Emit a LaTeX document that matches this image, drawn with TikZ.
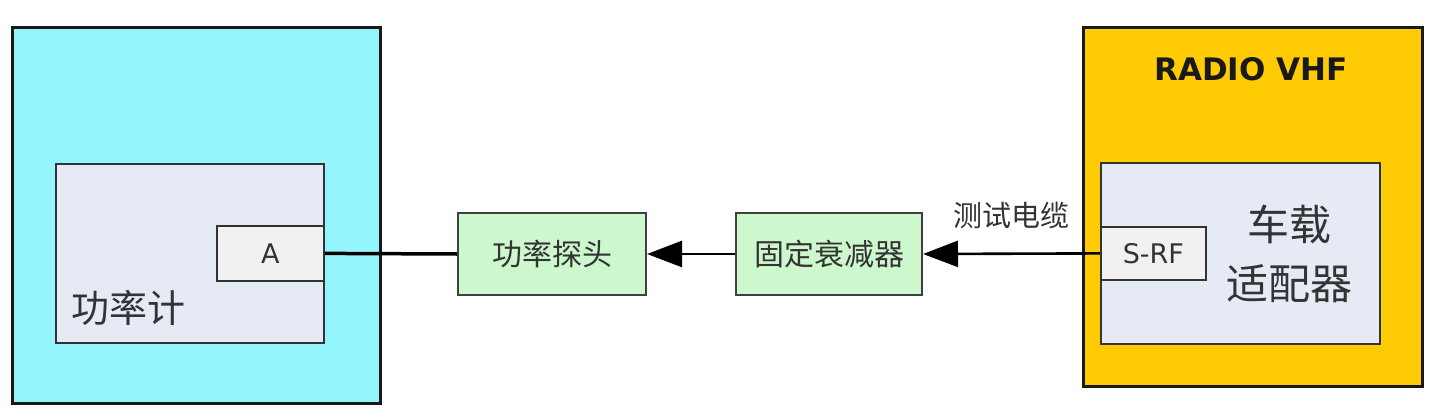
\documentclass[tikz,border=0pt]{standalone}
\usepackage{fontspec}
\setmainfont{DejaVu Sans}
\newfontfamily\cjk{Noto Sans CJK SC}
\usetikzlibrary{arrows.meta}
\definecolor{cyanbg}{HTML}{94F5FC}
\definecolor{inner}{HTML}{E6EAF4}
\definecolor{port}{HTML}{F1F1F1}
\definecolor{greenbox}{HTML}{CDF7CD}
\definecolor{gold}{HTML}{FFCB05}
\definecolor{txt}{HTML}{333333}
\tikzset{
  outerbox/.style={draw=black!90, line width=3pt},
  innerbox/.style={draw=black!80, line width=1.8pt, fill=inner},
  portbox/.style={draw=black!80, line width=1.8pt, fill=port, text=txt, font=\fontsize{27}{30}\selectfont},
  blockbox/.style={draw=black!75, line width=2pt, fill=greenbox, text=txt, font=\cjk\fontsize{30}{32}\selectfont},
  conn/.style={line width=3.5pt, draw=black},
  arr/.style={line width=2.6pt, draw=black, -{Triangle[length=35pt,width=26pt]}},
}
\begin{document}
\begin{tikzpicture}[x=1pt,y=-1pt]
\useasboundingbox (0,0) rectangle (1440,420);
\fill[white] (0,0) rectangle (1440,420);
% left
\draw[outerbox, fill=cyanbg] (12,28) rectangle (380,403);
\node[innerbox, minimum width=268pt, minimum height=179pt, anchor=north west, inner sep=0] (pm) at (55,163) {};
\node[portbox, minimum width=107pt, minimum height=55pt, anchor=north west, inner sep=0] (A) at (216,225) {A};
\node[anchor=west, text=txt, font=\cjk\fontsize{38}{40}\selectfont, inner sep=0] (pmlabel) at (71,308) {功率计};
% middle blocks
\node[blockbox, minimum width=188pt, minimum height=82pt, anchor=north west, inner sep=0] (probe) at (457,212) {功率探头};
\node[blockbox, minimum width=186pt, minimum height=82pt, anchor=north west, inner sep=0] (att) at (735,212) {固定衰减器};
% right
\draw[outerbox, fill=gold] (1083,28) rectangle (1422,386);
\node[font=\bfseries\fontsize{31}{33}\selectfont, text=black!90] (radio) at (1251,69) {RADIO VHF};
\node[innerbox, minimum width=279pt, minimum height=181pt, anchor=north west, inner sep=0] (adp) at (1100,162) {};
\node[portbox, minimum width=105pt, minimum height=53pt, anchor=north west, inner sep=0] (srf) at (1100,226) {S-RF};
\node[text=txt, font=\cjk\fontsize{42}{59}\selectfont, align=center, inner sep=0] (adplabel) at (1289,254) {车载\\适配器};
% connectors
\draw[conn] (A.east) -- (probe.west);
\draw[arr] (att.west) -- (probe.east);
\draw[arr] (srf.west) -- node[above=24pt, text=txt, font=\cjk\fontsize{29}{30}\selectfont, inner sep=0] (cable) {测试电缆} (att.east);
\end{tikzpicture}
\end{document}
